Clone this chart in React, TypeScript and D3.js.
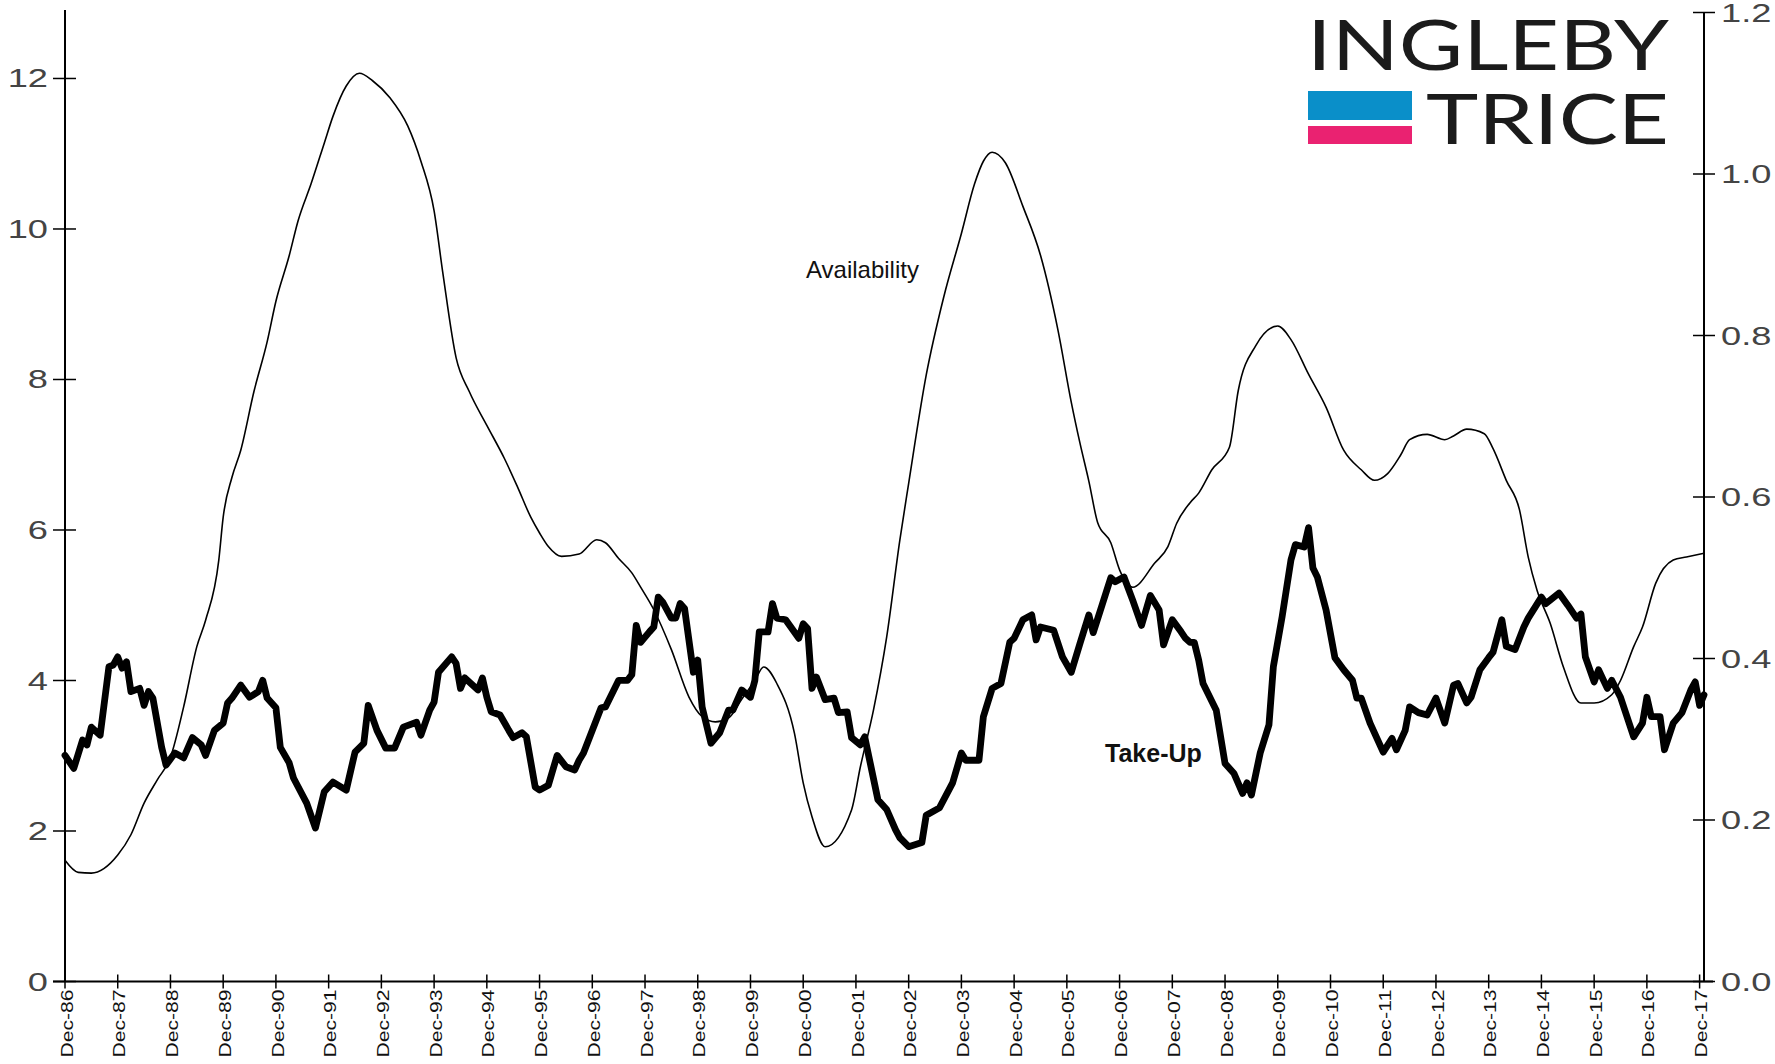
import * as d3 from 'd3';

// months counted from Dec-86 (0) to Jan-18 (373)
const dateLabels = [
  "Dec-86", "Dec-87", "Dec-88", "Dec-89", "Dec-90", "Dec-91", "Dec-92", "Dec-93",
  "Dec-94", "Dec-95", "Dec-96", "Dec-97", "Dec-98", "Dec-99", "Dec-00", "Dec-01",
  "Dec-02", "Dec-03", "Dec-04", "Dec-05", "Dec-06", "Dec-07", "Dec-08", "Dec-09",
  "Dec-10", "Dec-11", "Dec-12", "Dec-13", "Dec-14", "Dec-15", "Dec-16", "Dec-17"
];
const leftTicks = [0, 2, 4, 6, 8, 10, 12];
const rightTicks = [0, 0.2, 0.4, 0.6, 0.8, 1.0, 1.2];

// Availability, left axis: [month, value]
const availability: [number, number][] = [
  [0, 1.61], [3, 1.45], [6, 1.44], [12, 1.68], [15, 1.95], [18, 2.37], [21, 2.68],
  [24, 2.98], [27, 3.65], [30, 4.45], [32, 4.8], [35, 5.6], [36, 6.17], [38, 6.7],
  [40, 7.06], [43, 7.84], [46, 8.5], [48, 9.04], [51, 9.64], [53, 10.1], [56, 10.6],
  [59, 11.14], [61, 11.5], [64, 11.9], [67, 12.07], [70, 11.97], [74, 11.74],
  [78, 11.37], [81, 10.9], [84, 10.24], [86, 9.41], [89, 8.29], [92, 7.84],
  [96, 7.39], [100, 6.95], [103, 6.57], [106, 6.17], [108, 5.96], [110, 5.78],
  [113, 5.65], [117, 5.68], [121, 5.87], [123, 5.83], [126, 5.62], [129, 5.43],
  [131, 5.24], [134, 4.94], [138, 4.41], [142, 3.78], [145, 3.52], [148, 3.45],
  [151, 3.5], [154, 3.75], [157, 4.0], [159, 4.18], [162, 3.96], [166, 3.3],
  [168, 2.64], [170, 2.19], [173, 1.79], [179, 2.28], [181, 2.85], [184, 3.61],
  [187, 4.58], [190, 5.87], [192, 6.62], [196, 8.06], [200, 9.1], [204, 9.94],
  [207, 10.6], [209, 10.9], [211, 11.02], [214, 10.88], [218, 10.3], [222, 9.65],
  [226, 8.65], [229, 7.7], [231, 7.15], [233, 6.65], [235, 6.1], [238, 5.83],
  [240, 5.47], [243, 5.24], [248, 5.56], [251, 5.78], [253, 6.09], [256, 6.36],
  [258, 6.49], [261, 6.8], [265, 7.1], [267, 7.85], [271, 8.45], [276, 8.71],
  [279, 8.53], [283, 8.07], [287, 7.63], [291, 7.06], [295, 6.8], [298, 6.66],
  [301, 6.75], [304, 7.0], [306, 7.2], [310, 7.27], [314, 7.2], [316, 7.25],
  [319, 7.34], [323, 7.28], [325, 7.08], [328, 6.66], [331, 6.27], [333, 5.64],
  [335, 5.2], [338, 4.76], [341, 4.18], [345, 3.7], [348, 3.7], [352, 3.81],
  [354, 4.0], [357, 4.45], [359, 4.71], [362, 5.29], [366, 5.6], [369, 5.64],
  [373, 5.69]
];

// Take-Up, right axis: [month, value]
const takeUp: [number, number][] = [
  [0, 0.280], [2, 0.264], [4, 0.299], [5, 0.293], [6, 0.315], [8, 0.305], [10, 0.390],
  [11, 0.392], [12, 0.402], [13, 0.388], [14, 0.396], [15, 0.359], [17, 0.363],
  [18, 0.342], [19, 0.359], [20, 0.351], [22, 0.290], [23, 0.268], [25, 0.283],
  [27, 0.277], [29, 0.302], [31, 0.293], [32, 0.280], [34, 0.311], [36, 0.320],
  [37, 0.345], [38, 0.351], [40, 0.367], [42, 0.352], [44, 0.359], [45, 0.373],
  [46, 0.351], [48, 0.339], [49, 0.290], [51, 0.271], [52, 0.252], [55, 0.221],
  [57, 0.190], [59, 0.235], [61, 0.247], [64, 0.237], [66, 0.284], [68, 0.295],
  [69, 0.342], [71, 0.311], [73, 0.289], [75, 0.289], [77, 0.315], [80, 0.321],
  [81, 0.305], [83, 0.336], [84, 0.346], [85, 0.383], [88, 0.402], [89, 0.394],
  [90, 0.363], [91, 0.376], [94, 0.361], [95, 0.376], [96, 0.352], [97, 0.334],
  [99, 0.330], [101, 0.311], [102, 0.302], [104, 0.308], [105, 0.303], [107, 0.241],
  [108, 0.237], [110, 0.243], [112, 0.280], [114, 0.266], [116, 0.262], [117, 0.274],
  [118, 0.283], [122, 0.339], [123, 0.340], [126, 0.373], [128, 0.373], [129, 0.380],
  [130, 0.441], [131, 0.420], [133, 0.433], [134, 0.439], [135, 0.476], [136, 0.470],
  [138, 0.450], [139, 0.450], [140, 0.468], [141, 0.462], [143, 0.383], [144, 0.398],
  [145, 0.340], [147, 0.295], [149, 0.308], [151, 0.336], [152, 0.336], [154, 0.361],
  [156, 0.352], [157, 0.373], [158, 0.433], [160, 0.433], [161, 0.468], [162, 0.450],
  [164, 0.448], [167, 0.425], [168, 0.443], [169, 0.437], [170, 0.363], [171, 0.377],
  [173, 0.349], [175, 0.351], [176, 0.333], [178, 0.334], [179, 0.302], [181, 0.293],
  [182, 0.303], [185, 0.225], [187, 0.213], [189, 0.188], [190, 0.178], [192, 0.167],
  [195, 0.172], [196, 0.206], [199, 0.215], [202, 0.246], [204, 0.283], [205, 0.274],
  [208, 0.274], [209, 0.328], [211, 0.363], [213, 0.369], [215, 0.420], [216, 0.425],
  [218, 0.448], [220, 0.454], [221, 0.423], [222, 0.439], [225, 0.435], [227, 0.402],
  [229, 0.383], [231, 0.419], [233, 0.454], [234, 0.432], [236, 0.466], [238, 0.500],
  [239, 0.495], [241, 0.501], [243, 0.472], [245, 0.441], [247, 0.478], [249, 0.460],
  [250, 0.417], [252, 0.448], [254, 0.433], [255, 0.425], [256, 0.420], [257, 0.420],
  [258, 0.398], [259, 0.369], [262, 0.336], [264, 0.270], [266, 0.258], [268, 0.233],
  [269, 0.246], [270, 0.231], [272, 0.283], [274, 0.318], [275, 0.390], [277, 0.452],
  [279, 0.522], [280, 0.541], [282, 0.538], [283, 0.562], [284, 0.512], [285, 0.501],
  [287, 0.460], [289, 0.401], [291, 0.386], [293, 0.373], [294, 0.351], [295, 0.351],
  [297, 0.320], [300, 0.284], [302, 0.301], [303, 0.287], [305, 0.311], [306, 0.340],
  [308, 0.333], [310, 0.330], [312, 0.351], [314, 0.320], [316, 0.367], [317, 0.369],
  [319, 0.345], [320, 0.352], [322, 0.386], [324, 0.401], [325, 0.408], [327, 0.448],
  [328, 0.415], [330, 0.411], [332, 0.439], [333, 0.450], [336, 0.476], [337, 0.468],
  [340, 0.481], [342, 0.466], [344, 0.450], [345, 0.455], [346, 0.402], [348, 0.371],
  [349, 0.386], [351, 0.363], [352, 0.373], [354, 0.352], [357, 0.303], [359, 0.320],
  [360, 0.352], [361, 0.328], [363, 0.328], [364, 0.287], [366, 0.320], [368, 0.333],
  [370, 0.361], [371, 0.371], [372, 0.342], [373, 0.355]
];

const W = 1775;
const H = 1064;
const font = "Arial, 'Liberation Sans', sans-serif";
const logoFont = "Lato, 'Noto Sans', sans-serif";

export default function App() {
  const x = d3.scaleLinear().domain([0, 373]).range([65, 1704]);
  const yL = d3.scaleLinear().domain([0, 12.91]).range([981.5, 10]);
  const yR = d3.scaleLinear().domain([0, 1.2]).range([981.5, 12.5]);

  const availLine = d3.line<[number, number]>()
    .x(d => x(d[0]))
    .y(d => yL(d[1]))
    .curve(d3.curveMonotoneX);
  const takeLine = d3.line<[number, number]>()
    .x(d => x(d[0]))
    .y(d => yR(d[1]));

  const base = yL(0);

  return (
    <div style={{ position: 'absolute', left: 0, top: 0 }}>
      <svg width={W} height={H} viewBox={`0 0 ${W} ${H}`} style={{ display: 'block', background: '#fff' }}>
        {/* logo */}
        <g>
          <text x={1307} y={70} fontFamily={logoFont} fontWeight={400} fontSize={70} fill="#1b1b1b"
            textLength={362} lengthAdjust="spacingAndGlyphs">INGLEBY</text>
          <rect x={1308} y={91} width={104} height={29} fill="#0a8fc9" />
          <rect x={1308} y={126} width={104} height={18} fill="#ea2271" />
          <text x={1426} y={144} fontFamily={logoFont} fontWeight={400} fontSize={70} fill="#1b1b1b"
            textLength={243} lengthAdjust="spacingAndGlyphs">TRICE</text>
        </g>

        {/* left axis */}
        <line x1={x(0)} x2={x(0)} y1={yL.range()[1]} y2={base} stroke="#000" strokeWidth={2} />
        {leftTicks.map(t => (
          <g key={'l' + t}>
            <line x1={x(0) - 12} x2={x(0) + 11} y1={yL(t)} y2={yL(t)} stroke="#000" strokeWidth={1.5} />
            <text transform={`translate(48,${yL(t)}) scale(1.45,1)`} dy="0.36em" textAnchor="end"
              fontFamily={font} fontSize={25} fill="#444">{t}</text>
          </g>
        ))}

        {/* right axis */}
        <line x1={x(373)} x2={x(373)} y1={yR(1.2)} y2={base} stroke="#000" strokeWidth={2} />
        {rightTicks.map(t => (
          <g key={'r' + t}>
            <line x1={x(373) - 11} x2={x(373) + 11} y1={yR(t)} y2={yR(t)} stroke="#000" strokeWidth={1.5} />
            <text transform={`translate(1721,${yR(t)}) scale(1.45,1)`} dy="0.36em" textAnchor="start"
              fontFamily={font} fontSize={25} fill="#444">{t.toFixed(1)}</text>
          </g>
        ))}

        {/* x axis */}
        <line x1={53} x2={1713} y1={base} y2={base} stroke="#000" strokeWidth={2} />
        {dateLabels.map((lab, i) => {
          const px = x(i * 12);
          return (
            <g key={lab}>
              <line x1={px} x2={px} y1={base - 7} y2={base + 7} stroke="#000" strokeWidth={1.5} />
              <text transform={`translate(${px + 2},${base + 8}) rotate(-90)`} dy="0.35em" textAnchor="end"
                fontFamily={font} fontSize={16} fill="#111" textLength={68} lengthAdjust="spacingAndGlyphs">{lab}</text>
            </g>
          );
        })}

        {/* series */}
        <path d={availLine(availability) || ''} fill="none" stroke="#000" strokeWidth={1.6} strokeLinejoin="round" />
        <path d={takeLine(takeUp) || ''} fill="none" stroke="#000" strokeWidth={6.8} strokeLinejoin="round" strokeLinecap="round" />

        {/* series labels */}
        <text x={806} y={278} fontFamily={font} fontSize={24} fill="#111">Availability</text>
        <text x={1105} y={762} fontFamily={font} fontSize={25} fontWeight="bold" fill="#111">Take-Up</text>
      </svg>
    </div>
  );
}
